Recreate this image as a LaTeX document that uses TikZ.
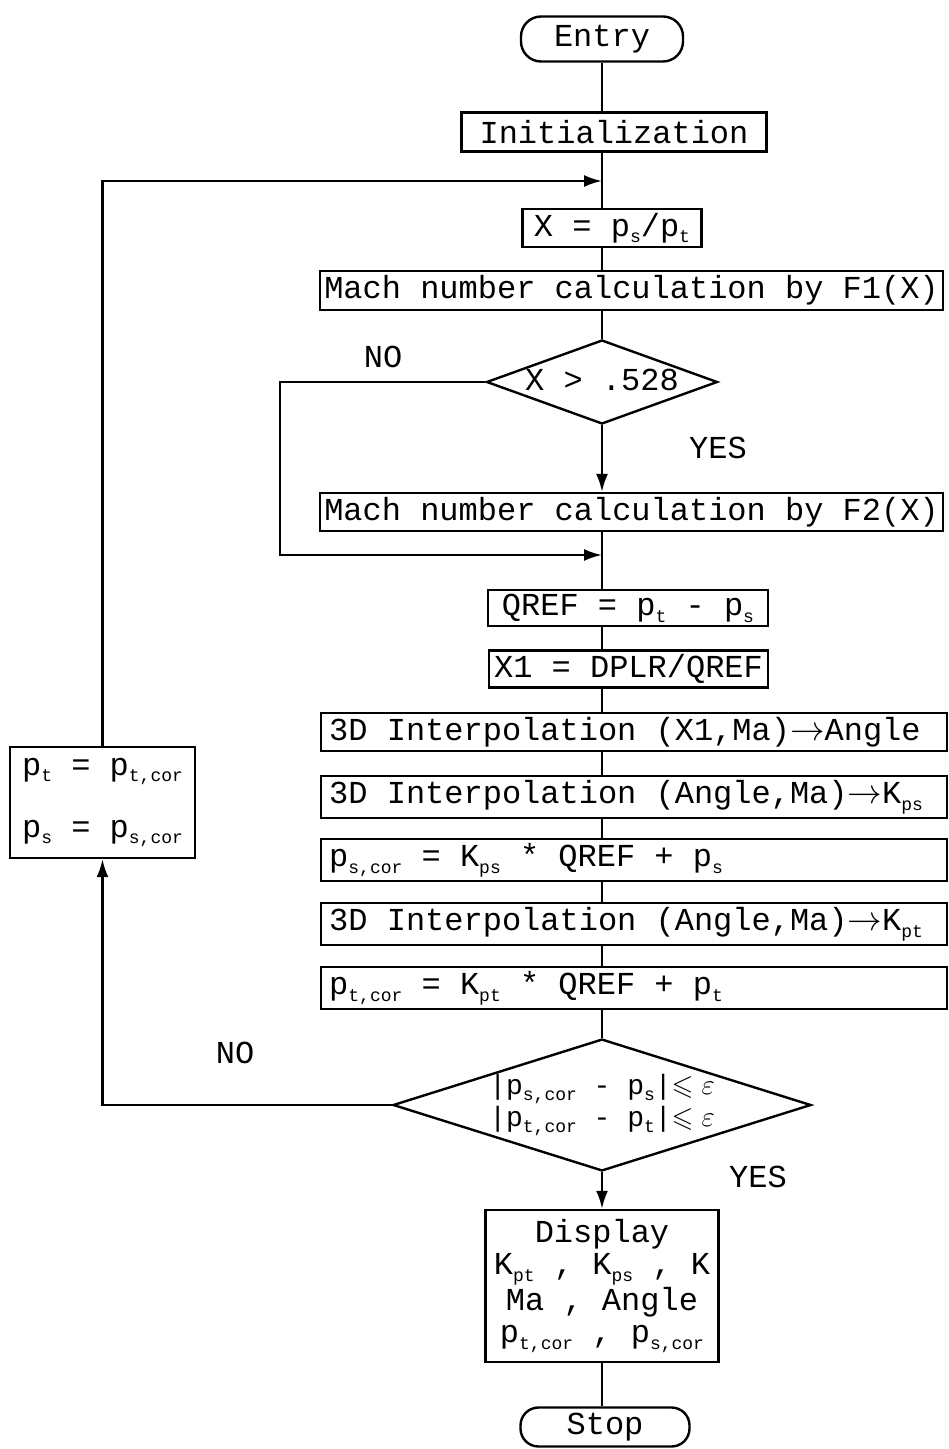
\documentclass[tikz,border=0pt]{standalone}
\usepackage{amsmath,amssymb}
\usepackage{fontspec}
\setmonofont{Liberation Mono}
\usetikzlibrary{arrows.meta,positioning,shapes.geometric}
\newcommand{\subtext}[1]{\raisebox{-0.4ex}{\fontsize{9}{9}\selectfont #1}}
\newcommand{\psub}[1]{p\subtext{#1}}
\newcommand{\Ksub}[1]{K\subtext{#1}}
\newcommand{\flowfont}{\ttfamily\fontsize{16}{19}\selectfont}

\begin{document}
\begin{tikzpicture}[
    x=0.5pt, y=-0.5pt,
    block/.style={rectangle, draw, line width=1.2pt, inner sep=2pt, font=\flowfont},
    wide/.style={block, anchor=west, text width=305pt, inner xsep=4pt, align=left, minimum height=18pt,
        execute at begin node={\spaceskip=9.6pt\relax}},
    terminal/.style={block, rounded corners=10pt},
    decision/.style={diamond, draw, line width=1.2pt, inner sep=0pt, font=\flowfont},
    answer/.style={font=\flowfont},
    line/.style={line width=1.2pt},
    arrow/.style={line, -{Latex[length=9pt, width=6pt]}}
]

% Page
\path[fill=white] (0,0) rectangle (945,1449);
\coordinate (axis) at (602,0);
\coordinate (join1) at (602,181);
\coordinate (join2) at (602,555);
\coordinate (bypass) at (280,555);

% Top: entry and first ratio
\node[terminal, minimum width=81pt, minimum height=22.5pt] (entry) at (602,39) {Entry};
\node[block, minimum width=152.5pt, minimum height=19.5pt] (init) at (614,132) {Initialization};
\node[block, minimum width=89.5pt, minimum height=18.5pt] (xratio) at (612,228) {X = \psub{s}/\psub{t}};
\node[block, minimum width=311.5pt, minimum height=19.5pt] (machone) at (631.5,290.5) {Mach number calculation by F1(X)};
\node[decision, aspect=2.75, minimum width=115.5pt, minimum height=42pt, text height=9pt, text depth=1pt] (ratiotest) at (602,382) {X > .528};
\node[block, minimum width=311.5pt, minimum height=16pt] (machtwo) at (631.5,512) {Mach number calculation by F2(X)};

% Middle: corrections
\node[block, minimum width=140pt, minimum height=17.5pt] (qref) at (628,608) {QREF = \psub{t} - \psub{s}};
\node[block, minimum width=139.5pt, minimum height=17pt] (xone) at (628.5,669) {X1 = DPLR/QREF};
\node[wide] (angle) at (320,732) {3D Interpolation (X1,Ma)$\rightarrow$Angle};
\node[wide] (kps) at (320,797) {3D Interpolation (Angle,Ma)$\rightarrow$\Ksub{ps}};
\node[wide] (pscor) at (320,860) {\psub{s,cor} = \Ksub{ps} * QREF + \psub{s}};
\node[wide] (kpt) at (320,924) {3D Interpolation (Angle,Ma)$\rightarrow$\Ksub{pt}};
\node[wide] (ptcor) at (320,988) {\psub{t,cor} = \Ksub{pt} * QREF + \psub{t}};

% Bottom: convergence test and output
\node[decision, aspect=3.17, minimum width=206pt, minimum height=65pt, font=\ttfamily\fontsize{14}{12.5}\selectfont, align=left] (convtest) at (602,1105)
    {|\psub{s,cor} - \psub{s}|$\leqslant\varepsilon$\\|\psub{t,cor} - \psub{t}|$\leqslant\varepsilon$};
\node[block, minimum width=116.5pt, minimum height=76pt, align=center, font=\ttfamily\fontsize{16}{16}\selectfont] (display) at (602,1286)
    {Display\\\Ksub{pt} , \Ksub{ps} , K\\Ma , Angle\\\psub{t,cor} , \psub{s,cor}};
\node[terminal, minimum width=84.5pt, minimum height=19.5pt, rounded corners=9pt] (stop) at (605,1427) {Stop};

% Left: update of pressures
\node[block, minimum width=92.5pt, minimum height=55.5pt, align=left] (update) at (102.5,802.5)
    {\psub{t} = \psub{t,cor}\\[12pt]\psub{s} = \psub{s,cor}};

% Branch labels
\node[answer] (noone) at (383,357) {NO};
\node[answer] (yesone) at (718,448) {YES};
\node[answer] (notwo) at (235,1053) {NO};
\node[answer] (yestwo) at (758,1177) {YES};

% Connections
\draw[line] (entry.south -| axis) -- (init.north -| axis);
\draw[line] (init.south -| axis) -- (xratio.north -| axis);
\draw[line] (xratio.south -| axis) -- (machone.north -| axis);
\draw[line] (machone.south -| axis) -- (ratiotest.north);
\draw[arrow] (ratiotest.south) -- (machtwo.north -| axis);
\draw[line] (machtwo.south -| axis) -- (qref.north -| axis);
\draw[line] (qref.south -| axis) -- (xone.north -| axis);
\draw[line] (xone.south -| axis) -- (angle.north -| axis);
\draw[line] (angle.south -| axis) -- (kps.north -| axis);
\draw[line] (kps.south -| axis) -- (pscor.north -| axis);
\draw[line] (pscor.south -| axis) -- (kpt.north -| axis);
\draw[line] (kpt.south -| axis) -- (ptcor.north -| axis);
\draw[line] (ptcor.south -| axis) -- (convtest.north);
\draw[arrow] (convtest.south) -- (display.north);
\draw[line] (display.south) -- (stop.north -| display.south);
\draw[arrow] (ratiotest.west) -| (bypass) -- (join2);
\draw[arrow] (convtest.west) -| (update.south);
\draw[arrow] (update.north) |- (join1);

\end{tikzpicture}
\end{document}
